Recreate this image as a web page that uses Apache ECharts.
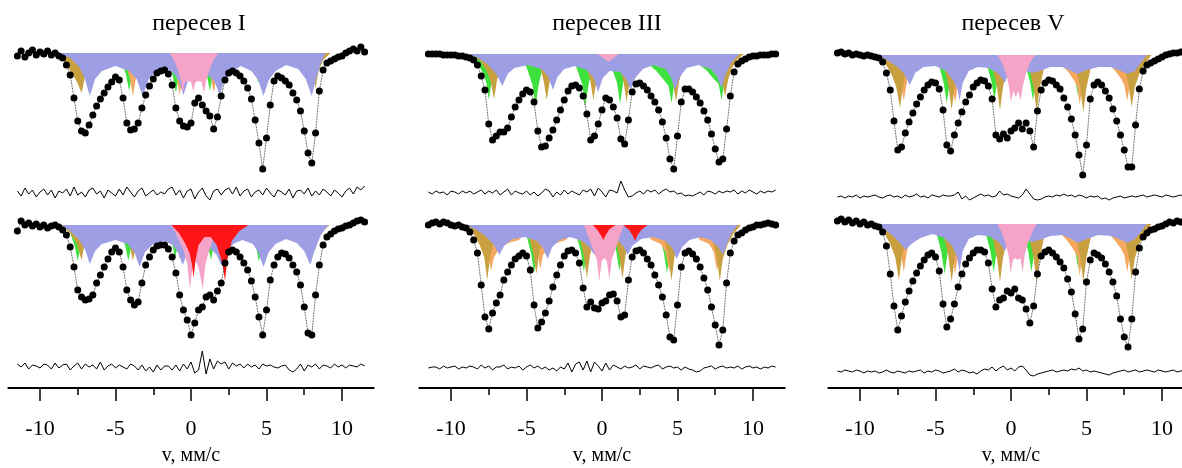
<!DOCTYPE html>
<html><head><meta charset="utf-8">
<script src="https://cdn.jsdelivr.net/npm/echarts@6/dist/echarts.min.js"></script>
<style>html,body{margin:0;padding:0;background:#fff}#c{width:1182px;height:468px}</style>
</head><body><div id="c"></div>
<script>
// ---------- DATA ----------
const titles = ['пересев I', 'пересев III', 'пересев V'];
const axisName = 'v, мм/с';
const majorTicks = [-10, -5, 0, 5, 10];
const minorTicks = [-7.5, -2.5, 2.5, 7.5];

// velocity grid, mm/s
const vel = [-11.5,-11.25,-11,-10.75,-10.5,-10.25,-10,-9.75,-9.5,-9.25,
-9,-8.75,-8.5,-8.25,-8,-7.75,-7.5,-7.25,-7,-6.75,
-6.5,-6.25,-6,-5.75,-5.5,-5.25,-5,-4.75,-4.5,-4.25,
-4,-3.75,-3.5,-3.25,-3,-2.75,-2.5,-2.25,-2,-1.75,
-1.5,-1.25,-1,-0.75,-0.5,-0.25,0,0.25,0.5,0.75,
1,1.25,1.5,1.75,2,2.25,2.5,2.75,3,3.25,
3.5,3.75,4,4.25,4.5,4.75,5,5.25,5.5,5.75,
6,6.25,6.5,6.75,7,7.25,7.5,7.75,8,8.25,
8.5,8.75,9,9.25,9.5,9.75,10,10.25,10.5,10.75,
11,11.25,11.5];

// measured absorption, % (top / bottom spectrum of each panel)
const d1T = [0.3,-0.2,0.4,0.0,-0.3,0.2,-0.1,0.1,-0.2,0.2,
0.0,0.3,0.5,1.2,2.2,4.5,6.8,7.8,8.0,7.2,
6.2,5.3,4.6,4.0,3.4,2.9,2.4,2.7,4.5,7.0,
7.7,7.6,7.0,5.5,4.2,3.3,2.6,2.0,1.8,1.7,
2.1,3.2,5.5,6.8,7.3,7.4,7.0,5.0,4.5,5.2,
5.8,6.3,7.6,6.4,4.3,2.7,2.0,1.8,2.0,2.3,
2.8,3.5,4.6,6.7,9.0,11.6,8.5,5.2,2.8,2.3,
2.5,2.8,3.2,4.0,4.7,5.8,7.8,10.0,11.0,8.0,
3.8,1.7,1.0,0.8,0.6,0.4,0.3,0.0,-0.2,-0.4,
-0.2,-0.6,-0.1];
const d1B = [0.6,-0.4,0.0,-0.2,0.1,-0.1,0.2,0.0,0.3,0.1,
0.0,0.2,0.5,1.0,2.2,4.2,6.5,7.2,7.5,7.4,
7.0,5.8,5.0,4.2,3.4,2.7,2.3,2.7,4.2,6.5,
7.5,8.0,7.7,5.8,4.0,3.2,2.5,2.1,2.0,2.0,
2.4,3.2,4.8,7.0,8.5,9.5,11.0,9.8,8.5,8.2,
7.2,7.0,7.5,6.6,5.8,3.8,2.7,2.5,2.7,3.2,
3.8,4.5,5.6,7.2,9.2,11.0,8.5,5.5,4.0,3.2,
2.8,2.9,3.3,4.0,4.7,6.0,8.2,10.8,11.0,7.0,
4.0,2.0,1.2,0.9,0.6,0.4,0.3,0.1,0.0,-0.2,
-0.4,-0.5,-0.3];
const d2T = [0.0,0.0,0.0,0.0,0.1,0.1,0.1,0.1,0.2,0.2,
0.3,0.4,0.6,1.1,2.2,3.6,7.0,8.6,8.2,7.8,
7.8,7.4,6.3,5.3,4.6,4.0,3.6,3.8,4.8,7.7,
9.3,9.2,8.4,7.6,6.6,5.6,4.6,3.7,3.2,3.1,
3.4,4.2,6.0,8.6,8.2,7.0,5.6,4.4,4.6,5.3,
6.4,8.5,9.0,6.6,3.8,3.0,2.9,3.2,3.6,4.2,
4.8,5.6,6.8,8.4,10.5,11.5,8.2,4.8,3.5,3.5,
3.8,4.3,4.9,5.7,6.6,8.0,9.5,10.8,10.5,7.5,
4.2,1.8,1.0,0.7,0.5,0.3,0.2,0.2,0.1,0.1,
0.1,0.0,0.0];
const d2B = [0.0,-0.2,-0.3,-0.1,-0.3,-0.2,0.0,0.1,0.0,0.2,
0.3,0.7,1.5,2.8,6.0,9.2,10.4,8.8,7.8,7.0,
5.5,4.7,4.0,3.4,3.1,2.8,3.1,4.5,8.0,10.3,
9.7,8.8,7.6,6.2,5.0,4.0,3.1,2.6,2.5,2.8,
3.8,6.3,8.2,7.7,8.3,8.4,7.8,7.6,7.0,6.9,
7.6,9.2,9.0,5.5,3.2,2.6,2.5,2.8,3.4,4.0,
5.0,6.0,7.2,9.0,11.2,11.5,8.0,4.2,2.8,2.6,
2.9,3.4,4.2,5.3,6.5,8.2,10.0,12.0,10.5,5.8,
2.8,1.6,1.0,0.8,0.5,0.3,0.2,0.0,0.0,-0.1,
-0.2,-0.1,0.0];
const d3T = [-0.2,-0.3,-0.1,-0.2,0.0,-0.1,0.0,0.1,0.0,0.1,
0.2,0.3,0.7,1.8,3.5,6.6,9.5,9.2,7.8,6.7,
5.8,4.9,4.2,3.5,3.0,2.7,2.8,3.4,5.5,9.0,
9.6,8.0,6.8,5.7,4.7,4.0,3.2,2.8,2.5,2.6,
3.1,4.4,8.0,8.4,7.9,8.3,7.6,7.3,6.8,7.4,
6.8,7.6,9.2,5.6,3.5,2.8,2.5,2.6,3.0,3.4,
4.3,5.2,6.4,8.0,10.0,12.0,9.0,4.4,3.0,2.7,
3.0,3.6,4.3,5.4,6.6,8.0,9.5,11.2,11.2,7.0,
3.4,1.6,1.0,0.8,0.6,0.4,0.2,0.0,-0.1,-0.2,
-0.2,-0.3,-0.3];
const d3B = [-0.3,-0.5,-0.2,-0.4,-0.1,-0.3,0.0,-0.2,0.1,0.0,
0.2,0.3,0.8,2.2,5.0,8.2,10.6,9.2,7.8,6.7,
5.7,4.9,4.2,3.6,3.1,2.9,3.3,4.7,8.0,10.3,
9.5,8.0,6.3,5.0,4.0,3.4,2.9,2.6,2.6,2.8,
3.9,6.5,8.3,7.6,7.4,6.7,6.9,6.5,7.4,7.6,
8.5,9.9,8.2,5.0,3.2,2.8,2.6,2.9,3.3,3.8,
4.4,5.5,6.8,9.0,11.5,10.5,5.8,3.6,2.9,3.1,
3.4,4.0,4.8,5.8,7.2,9.5,11.3,12.3,9.5,4.8,
2.4,1.3,0.9,0.6,0.5,0.3,0.2,0.0,-0.2,-0.1,
-0.3,-0.2,-0.3];

// residuals, %
const r1T = [0.2,-0.3,0.5,-0.1,0.3,-0.4,0.1,0.4,-0.2,0.3,
-0.5,0.2,0.0,0.4,-0.3,0.6,-0.2,0.1,-0.4,0.3,
0.5,-0.1,0.2,-0.5,0.3,0.0,-0.3,0.4,-0.2,0.6,
0.1,-0.4,0.2,0.5,-0.3,0.0,0.3,-0.2,0.1,-0.1,
0.4,0.6,-0.2,0.3,-0.5,0.2,0.4,-0.6,0.1,0.5,
-0.3,-0.7,0.2,0.4,-0.2,0.3,0.5,-0.1,0.6,-0.3,
0.2,0.4,-0.4,0.1,0.3,-0.2,0.5,0.0,-0.4,0.3,
0.1,-0.2,0.4,-0.5,0.2,0.3,-0.1,0.5,-0.3,0.2,
-0.2,0.4,0.1,-0.3,0.3,0.0,-0.4,0.2,0.5,-0.1,
0.6,0.3,0.7];
const r1B = [0.3,0.0,0.4,-0.2,0.2,0.1,-0.1,0.3,0.2,-0.2,
0.4,-0.1,0.2,0.3,-0.3,0.1,0.4,-0.2,0.3,0.0,
0.2,-0.2,0.5,-0.3,0.1,0.3,-0.1,0.2,0.0,-0.2,
0.3,0.1,-0.3,0.2,-0.4,0.0,-0.5,0.2,-0.3,0.1,
0.1,-0.3,0.2,-0.4,0.3,-0.2,0.5,-0.6,-0.3,1.6,
-0.7,0.8,-0.2,0.6,0.3,0.5,-0.2,0.4,0.1,0.3,
-0.1,0.3,0.0,0.2,-0.2,0.3,0.1,0.2,0.0,-0.1,
0.1,0.2,-0.3,-0.5,-0.2,0.3,-0.4,0.2,0.0,0.3,
-0.2,0.2,0.1,-0.1,0.3,0.0,0.2,-0.1,0.2,0.1,
0.0,0.3,0.1];
const r2T = [0.1,-0.1,0.2,0.0,0.1,-0.2,0.2,0.1,-0.1,0.2,
0.0,0.2,-0.1,0.1,0.3,-0.1,0.2,0.0,0.3,-0.2,
0.1,0.4,-0.2,0.2,0.0,-0.1,0.2,-0.2,0.1,-0.3,
0.0,0.4,0.2,-0.4,0.1,-0.2,0.3,-0.1,0.2,0.0,
-0.2,0.3,0.1,0.4,-0.3,0.5,0.1,-0.4,0.3,0.2,
0.0,1.2,0.3,-0.4,-0.3,0.0,0.2,-0.1,0.3,0.1,
0.3,-0.1,0.2,0.4,0.1,0.2,-0.1,0.0,-0.3,-0.2,
-0.3,-0.1,0.1,-0.2,0.2,0.1,-0.1,0.2,0.0,0.2,
0.1,0.3,-0.1,0.2,0.0,0.3,0.1,-0.1,0.2,0.0,
0.2,0.1,0.3];
const r2B = [0.0,0.1,0.1,-0.1,0.2,0.0,0.1,0.2,-0.1,0.1,
0.0,0.2,0.1,-0.1,0.3,0.0,0.2,-0.2,0.1,0.1,
0.3,-0.1,0.1,0.0,0.2,-0.2,0.1,0.3,0.0,0.2,
-0.1,0.1,-0.2,0.0,-0.3,0.1,-0.1,0.5,-0.4,0.4,
0.6,-0.2,0.7,-0.4,0.6,0.2,-0.3,0.5,-0.2,0.3,
0.1,-0.1,0.2,0.0,0.1,0.3,-0.1,0.2,0.1,0.0,
0.2,0.3,-0.1,0.1,0.2,0.0,0.1,-0.2,0.1,-0.1,
-0.2,-0.4,-0.3,0.0,0.1,0.2,-0.1,0.1,0.2,0.0,
0.1,0.0,0.2,-0.1,0.1,0.2,0.0,0.1,-0.1,0.1,
0.0,0.2,0.1];
const r3T = [0.0,0.1,-0.1,0.1,0.0,0.2,-0.1,0.1,0.0,0.1,
0.2,0.0,-0.1,0.1,0.2,0.0,0.1,-0.1,0.2,0.0,
0.1,0.3,0.0,0.1,-0.1,0.2,0.1,0.0,0.2,0.1,
0.1,0.2,0.5,-0.2,0.1,-0.3,-0.1,0.1,0.3,0.1,
0.2,0.0,0.1,0.6,0.2,0.3,0.1,0.0,-0.1,0.2,
0.8,0.3,-0.2,-0.3,-0.2,0.0,0.1,0.0,0.2,0.1,
0.3,0.1,0.2,0.0,0.2,0.1,-0.1,0.1,0.0,0.1,
-0.2,-0.1,-0.3,-0.1,0.0,0.1,-0.1,0.0,0.1,0.0,
0.1,0.2,0.0,0.1,0.2,0.1,0.0,0.2,0.1,0.0,
0.1,0.2,0.0];
const r3B = [0.1,0.0,0.2,0.1,0.0,0.2,0.1,-0.1,0.1,0.0,
0.1,-0.1,0.0,0.2,0.0,-0.1,0.1,0.0,-0.1,0.1,
0.0,0.1,0.2,-0.1,0.1,0.0,0.2,0.1,-0.1,0.0,
0.1,0.3,0.0,0.2,0.1,-0.1,0.0,-0.2,0.1,0.3,
0.2,0.5,0.1,0.4,0.6,0.2,0.4,0.1,0.5,0.6,
0.2,-0.3,-0.4,-0.2,-0.1,0.0,0.1,0.2,0.0,0.1,
0.2,0.1,0.3,0.2,0.4,0.1,0.2,0.0,0.1,0.0,
-0.1,-0.2,-0.3,-0.1,0.0,0.1,0.2,0.0,0.1,0.2,
0.0,0.1,0.2,0.1,0.0,0.2,0.1,0.0,0.1,0.2,
0.0,0.1,0.2];

// sub-spectra outlines [v, absorption %]
const blue1T = [[-8.8,0],[-8.0,0.5],[-7.4,1.4],[-7.05,2.5],[-6.7,4.3],[-6.35,2.6],[-5.9,1.8],[-5.0,1.3],[-4.1,1.8],[-3.6,2.6],[-3.2,4.3],[-2.8,2.6],[-2.3,1.8],[-1.7,1.5],[-1.15,2.0],[-0.8,2.8],[-0.5,4.2],[-0.2,2.8],[0.3,2.0],[0.8,2.0],[1.3,2.4],[1.6,3.0],[1.9,4.2],[2.2,2.8],[2.7,1.9],[3.3,1.3],[4.0,1.8],[4.45,2.7],[4.8,4.3],[5.15,2.7],[5.6,1.8],[6.3,1.2],[7.1,1.6],[7.6,2.6],[8.0,4.3],[8.3,2.5],[8.6,1.0],[8.9,0]];
const gold1T = [[-8.7,0],[-8.3,1.1],[-7.9,2.0],[-7.55,2.9],[-7.24,4.0],[-7.0,2.2],[-6.7,0.6],[-6.2,0],[7.25,0],[7.75,0.8],[8.05,2.0],[8.25,3.5],[8.45,1.8],[8.75,0.7],[9.25,0]];
const orange1T = [[-4.85,0],[-4.35,0.95],[-4.05,2.5],[-3.85,4.3],[-3.65,2.5],[-3.35,0.95],[-2.85,0],[-1.75,0],[-1.25,0.9],[-0.95,2.4],[-0.75,4.2],[-0.55,2.4],[-0.25,0.9],[0.25,0],[0.5,0],[1.0,0.9],[1.3,2.3],[1.5,4.0],[1.7,2.3],[2.0,0.9],[2.5,0]];
const green1T = [[-5.1,0],[-4.6,0.85],[-4.3,2.2],[-4.1,3.8],[-3.9,2.2],[-3.6,0.85],[-3.1,0],[-2.0,0],[-1.5,0.9],[-1.2,2.3],[-1.0,4.0],[-0.8,2.3],[-0.5,0.9],[0.0,0],[0.25,0],[0.75,0.85],[1.05,2.2],[1.25,3.8],[1.45,2.2],[1.75,0.85],[2.25,0],[3.45,0],[3.95,0.7],[4.25,1.7],[4.45,3.0],[4.65,1.7],[4.95,0.7],[5.45,0]];
const pink1T = [[-1.4,0],[-1.1,0.8],[-0.85,1.8],[-0.65,2.8],[-0.55,4.0],[-0.4,2.9],[-0.2,2.8],[0.0,2.9],[0.15,3.8],[0.3,2.9],[0.5,2.8],[0.7,2.9],[0.86,4.0],[1.0,2.8],[1.2,1.8],[1.45,0.8],[1.8,0]];

const blue1B = [[-8.6,0],[-8.0,0.6],[-7.4,1.5],[-7.0,2.5],[-6.7,3.9],[-6.35,2.6],[-5.9,1.9],[-5.0,1.5],[-4.2,1.9],[-3.75,2.7],[-3.4,4.2],[-3.05,2.7],[-2.5,1.9],[-1.8,1.6],[-1.2,2.0],[-0.85,2.8],[-0.55,4.0],[-0.25,2.8],[0.3,2.0],[0.9,2.0],[1.4,2.5],[1.7,3.0],[2.0,4.0],[2.3,2.8],[2.8,1.9],[3.4,1.5],[4.1,1.9],[4.45,2.7],[4.8,4.2],[5.15,2.7],[5.6,1.9],[6.3,1.4],[7.0,1.8],[7.5,2.6],[7.9,4.0],[8.2,2.5],[8.6,1.0],[9.1,0]];
const gold1B = [[-8.6,0],[-8.0,0.8],[-7.55,1.9],[-7.25,3.5],[-7.05,1.9],[-6.75,0.6],[-6.25,0],[-4.85,0],[-4.35,0.8],[-4.05,2.1],[-3.85,3.6],[-3.65,2.1],[-3.35,0.8],[-2.85,0],[7.2,0],[7.7,0.6],[8.0,1.5],[8.2,2.6],[8.4,1.5],[8.7,0.6],[9.2,0]];
const orange1B = [[-1.75,0],[-1.25,0.75],[-0.95,1.9],[-0.75,3.4],[-0.55,1.9],[-0.25,0.75],[0.25,0]];
const green1B = [[-8.5,0],[-8.0,0.8],[-7.7,2.1],[-7.5,3.6],[-7.3,2.1],[-7.0,0.8],[-6.5,0],[-5.15,0],[-4.65,0.8],[-4.35,2.1],[-4.15,3.6],[-3.95,2.1],[-3.65,0.8],[-3.15,0],[-2.05,0],[-1.55,0.75],[-1.25,1.9],[-1.05,3.3],[-0.85,1.9],[-0.55,0.75],[-0.05,0],[0.32,0],[0.82,0.8],[1.12,2.0],[1.32,3.5],[1.52,2.0],[1.82,0.8],[2.32,0],[3.5,0],[4.0,0.8],[4.3,2.1],[4.5,3.7],[4.7,2.1],[5.0,0.8],[5.5,0]];
const pink1B = [[-1.3,0],[-0.9,1.2],[-0.5,2.5],[-0.25,3.8],[-0.07,6.4],[0.1,4.2],[0.3,3.6],[0.5,4.2],[0.77,6.4],[0.95,4.0],[1.2,2.6],[1.5,1.2],[1.9,0]];
const red1B = [[-1.3,0],[-0.8,0.8],[-0.4,1.8],[-0.1,2.8],[0.05,3.8],[0.17,5.3],[0.3,3.5],[0.5,2.0],[0.9,1.2],[1.3,1.2],[1.7,2.0],[1.95,3.2],[2.1,4.0],[2.25,5.6],[2.4,3.5],[2.7,1.6],[3.2,0.6],[3.8,0]];

const blue2T = [[-8.8,0],[-8.2,0.4],[-7.6,1.0],[-7.0,2.0],[-6.6,3.2],[-6.25,2.0],[-5.8,1.4],[-4.9,1.1],[-4.0,1.5],[-3.55,2.3],[-3.25,3.6],[-2.95,2.3],[-2.5,1.5],[-1.8,1.2],[-1.0,1.6],[-0.55,2.4],[-0.26,3.8],[0.05,2.4],[0.5,1.7],[1.2,1.8],[1.6,2.5],[1.9,3.6],[2.2,2.4],[2.7,1.5],[3.4,1.1],[4.2,1.5],[4.55,2.3],[4.85,3.6],[5.15,2.3],[5.6,1.4],[6.4,1.1],[7.2,1.5],[7.6,2.2],[7.9,3.4],[8.2,2.0],[8.6,0.8],[9.1,0]];
const gold2T = [[-8.6,0],[-8.0,0.8],[-7.6,1.8],[-7.35,2.9],[-7.15,4.5],[-6.95,2.6],[-6.65,1.0],[-6.15,0],[-4.66,0],[-4.16,1.0],[-3.86,2.7],[-3.66,4.6],[-3.46,2.7],[-3.16,1.0],[-2.66,0],[-1.57,0],[-1.07,1.0],[-0.77,2.7],[-0.57,4.6],[-0.37,2.7],[-0.07,1.0],[0.43,0],[0.63,0],[1.13,1.05],[1.43,2.8],[1.63,4.8],[1.83,2.8],[2.13,1.05],[2.63,0],[3.9,0],[4.4,1.05],[4.7,2.8],[4.9,4.8],[5.1,2.8],[5.4,1.05],[5.9,0],[7.15,0],[7.65,0.95],[7.95,2.5],[8.15,4.3],[8.35,2.6],[8.6,1.4],[9.0,0.5],[9.4,0]];
const green2T = [[-8.8,0],[-8.2,1.0],[-7.8,2.2],[-7.65,3.0],[-7.5,4.6],[-7.3,2.7],[-7.0,1.0],[-6.5,0],[-5.6,0],[-5.0,1.3],[-4.6,3.1],[-4.4,5.3],[-4.2,3.1],[-3.9,1.2],[-3.4,0],[-2.3,0],[-1.7,1.3],[-1.3,3.1],[-1.1,5.3],[-0.9,3.1],[-0.6,1.2],[-0.1,0],[0.1,0],[0.6,1.2],[1.0,2.9],[1.2,5.0],[1.4,2.9],[1.7,1.1],[2.2,0],[2.4,0],[3.0,0.9],[3.6,1.7],[4.1,2.6],[4.41,3.2],[4.61,4.9],[4.81,2.8],[5.1,1.1],[5.6,0],[5.7,0],[6.3,0.9],[6.9,1.6],[7.4,2.5],[7.72,3.0],[7.92,4.6],[8.12,2.7],[8.4,1.0],[8.9,0]];
const pink2T = [[-0.3,0],[0.0,0.3],[0.25,0.6],[0.42,0.8],[0.6,0.6],[0.85,0.3],[1.1,0]];

const blue2B = [[-9.1,0],[-8.4,0.4],[-7.8,1.0],[-7.2,1.9],[-6.8,3.0],[-6.45,2.0],[-5.9,1.4],[-5.1,1.2],[-4.3,1.6],[-3.9,2.3],[-3.6,3.4],[-3.3,2.2],[-2.8,1.5],[-2.1,1.2],[-1.3,1.6],[-0.85,2.2],[-0.5,3.0],[-0.15,2.0],[0.6,1.4],[1.1,1.6],[1.45,2.2],[1.7,3.0],[2.0,2.1],[2.6,1.4],[3.4,1.2],[4.2,1.6],[4.65,2.3],[4.95,3.4],[5.3,2.2],[5.8,1.5],[6.5,1.2],[7.2,1.5],[7.7,2.2],[8.0,3.0],[8.3,1.8],[8.6,0.8],[9.0,0]];
const gold2B = [[-9.1,0],[-8.5,0.9],[-8.1,2.0],[-7.8,3.2],[-7.6,5.5],[-7.4,3.2],[-7.1,1.2],[-6.6,0],[-5.35,0],[-4.85,1.1],[-4.55,2.8],[-4.35,4.9],[-4.15,2.8],[-3.85,1.1],[-3.35,0],[-2.0,0],[-1.5,1.15],[-1.2,3.1],[-1.0,5.3],[-0.8,3.1],[-0.5,1.15],[0.0,0],[0.35,0],[0.85,1.2],[1.15,3.1],[1.35,5.4],[1.55,3.1],[1.85,1.2],[2.35,0],[3.6,0],[4.1,1.2],[4.4,3.2],[4.6,5.6],[4.8,3.2],[5.1,1.2],[5.6,0],[6.8,0],[7.3,1.2],[7.6,3.2],[7.8,5.6],[8.0,3.4],[8.3,2.0],[8.7,0.9],[9.2,0]];
const orange2B = [[-8.35,0],[-7.85,1.0],[-7.55,2.7],[-7.35,4.6],[-7.15,3.2],[-6.8,2.4],[-6.2,1.8],[-5.5,1.5],[-5.0,0.5],[-4.8,0],[-4.7,0],[-4.4,1.2],[-4.25,2.6],[-4.1,4.4],[-3.9,3.0],[-3.6,2.4],[-3.0,1.8],[-2.4,1.5],[-1.9,0.6],[-1.6,0],[2.4,0],[2.8,0.6],[3.3,1.5],[3.9,1.9],[4.2,2.7],[4.45,4.6],[4.65,2.6],[4.95,1.0],[5.4,0],[5.6,0],[6.0,0.6],[6.5,1.5],[7.1,1.9],[7.4,2.7],[7.62,4.6],[7.82,2.6],[8.1,1.0],[8.6,0]];
const green2B = [[-5.5,0],[-5.0,1.05],[-4.7,2.8],[-4.5,4.8],[-4.3,2.8],[-4.0,1.05],[-3.5,0],[-2.2,0],[-1.7,1.0],[-1.4,2.7],[-1.2,4.7],[-1.0,2.7],[-0.7,1.0],[-0.2,0],[0.15,0],[0.65,1.0],[0.95,2.7],[1.15,4.6],[1.35,2.7],[1.65,1.0],[2.15,0],[3.3,0],[3.8,1.05],[4.1,2.8],[4.3,4.8],[4.5,2.8],[4.8,1.05],[5.3,0]];
const pink2B = [[-1.2,0],[-0.9,1.2],[-0.6,2.4],[-0.35,3.4],[-0.18,5.6],[-0.02,3.6],[0.15,3.3],[0.32,3.6],[0.49,5.4],[0.65,3.4],[0.9,2.4],[1.15,1.2],[1.45,0]];
const red2B = [[-0.6,0],[-0.3,0.5],[-0.05,1.1],[0.09,1.5],[0.25,1.0],[0.5,0.4],[0.9,0],[1.4,0],[1.8,0.5],[2.05,1.1],[2.19,1.6],[2.35,1.0],[2.6,0.5],[3.0,0]];

const blue3T = [[-8.8,0],[-8.2,0.5],[-7.6,1.1],[-7.1,1.8],[-6.7,3.0],[-6.35,1.8],[-5.8,1.2],[-5.0,1.1],[-4.3,1.6],[-3.8,2.6],[-3.55,3.4],[-3.4,4.6],[-3.2,2.8],[-2.8,1.6],[-2.2,1.2],[-1.5,1.3],[-0.9,1.8],[-0.6,2.3],[-0.4,2.8],[-0.2,1.9],[0.4,1.5],[1.0,1.6],[1.4,1.8],[1.9,1.6],[2.6,1.2],[3.4,1.2],[4.0,1.6],[4.4,1.9],[5.0,1.5],[5.8,1.2],[6.6,1.2],[7.3,1.6],[7.7,1.9],[8.2,1.6],[8.6,0.8],[9.0,0]];
const gold3T = [[-8.8,0],[-8.3,0.9],[-7.9,2.0],[-7.6,3.2],[-7.35,5.3],[-7.15,3.1],[-6.85,1.2],[-6.35,0],[-4.93,0],[-4.43,1.2],[-4.13,3.2],[-3.93,5.5],[-3.73,3.2],[-3.43,1.2],[-2.93,0],[-1.73,0],[-1.23,1.2],[-0.93,3.2],[-0.73,5.5],[-0.53,3.2],[-0.23,1.2],[0.27,0],[0.7,0],[1.2,1.25],[1.5,3.3],[1.7,5.7],[1.9,3.3],[2.2,1.25],[2.7,0],[3.79,0],[4.29,1.25],[4.59,3.3],[4.79,5.7],[4.99,3.3],[5.29,1.25],[5.79,0],[6.99,0],[7.49,1.15],[7.79,3.0],[7.99,5.2],[8.2,3.2],[8.5,1.9],[8.9,0.8],[9.3,0]];
const orange3T = [[-8.1,0],[-7.6,1.0],[-7.3,2.7],[-7.1,4.6],[-6.9,2.7],[-6.6,1.0],[-6.1,0],[-4.7,0],[-4.2,1.05],[-3.9,2.8],[-3.7,4.8],[-3.5,2.8],[-3.2,1.05],[-2.7,0],[2.6,0],[3.2,0.8],[3.8,1.7],[4.2,2.6],[4.4,3.2],[4.55,5.0],[4.75,2.9],[5.05,1.1],[5.55,0],[5.8,0],[6.4,0.8],[6.9,1.6],[7.3,2.4],[7.5,3.0],[7.7,4.6],[7.9,2.7],[8.2,1.0],[8.7,0]];
const green3T = [[-5.26,0],[-4.76,1.05],[-4.46,2.8],[-4.26,4.8],[-4.06,2.8],[-3.76,1.05],[-3.26,0],[-2.1,0],[-1.6,1.0],[-1.3,2.6],[-1.1,4.5],[-0.9,2.6],[-0.6,1.0],[-0.1,0],[0.45,0],[0.95,1.0],[1.25,2.6],[1.45,4.5],[1.65,2.6],[1.95,1.0],[2.45,0],[3.45,0],[3.95,0.9],[4.25,2.4],[4.45,4.2],[4.65,2.4],[4.95,0.9],[5.45,0]];
const pink3T = [[-0.9,0],[-0.6,0.8],[-0.35,1.8],[-0.15,3.0],[0.0,4.7],[0.15,3.6],[0.32,4.2],[0.48,3.6],[0.64,4.5],[0.8,3.0],[1.0,1.8],[1.25,0.8],[1.6,0]];

const blue3B = [[-9.0,0],[-8.4,0.5],[-7.8,1.2],[-7.3,2.0],[-7.0,2.6],[-6.6,2.0],[-6.0,1.4],[-5.2,1.0],[-4.4,1.4],[-3.9,2.2],[-3.6,3.2],[-3.4,4.7],[-3.2,2.7],[-2.8,1.5],[-2.2,1.1],[-1.5,1.2],[-0.9,1.7],[-0.6,2.2],[-0.4,2.7],[-0.2,1.9],[0.4,1.5],[1.0,1.6],[1.4,1.8],[1.9,1.6],[2.6,1.2],[3.4,1.1],[4.0,1.5],[4.4,1.9],[5.0,1.5],[5.8,1.1],[6.6,1.2],[7.3,1.6],[7.7,1.9],[8.2,1.5],[8.6,0.8],[9.0,0]];
const gold3B = [[-8.9,0],[-8.4,0.9],[-8.0,2.0],[-7.67,3.3],[-7.42,5.6],[-7.22,3.2],[-6.92,1.2],[-6.42,0],[-4.93,0],[-4.43,1.3],[-4.13,3.4],[-3.93,5.8],[-3.73,3.4],[-3.43,1.3],[-2.93,0],[-1.73,0],[-1.23,1.3],[-0.93,3.4],[-0.73,5.8],[-0.53,3.4],[-0.23,1.3],[0.27,0],[0.7,0],[1.2,1.3],[1.5,3.4],[1.7,5.8],[1.9,3.4],[2.2,1.3],[2.7,0],[3.79,0],[4.29,1.3],[4.59,3.4],[4.79,5.8],[4.99,3.4],[5.29,1.3],[5.79,0],[6.99,0],[7.49,1.2],[7.79,3.2],[7.99,5.6],[8.2,3.4],[8.5,2.0],[8.9,0.8],[9.3,0]];
const orange3B = [[-8.1,0],[-7.6,1.05],[-7.3,2.8],[-7.1,4.8],[-6.9,2.8],[-6.6,1.05],[-6.1,0],[-4.7,0],[-4.2,1.1],[-3.9,2.9],[-3.7,5.0],[-3.5,2.9],[-3.2,1.1],[-2.7,0],[2.6,0],[3.2,0.8],[3.8,1.8],[4.2,2.7],[4.4,3.3],[4.55,5.2],[4.75,3.0],[5.05,1.1],[5.55,0],[5.8,0],[6.4,0.8],[6.9,1.7],[7.3,2.5],[7.5,3.1],[7.7,4.8],[7.9,2.8],[8.2,1.0],[8.7,0]];
const green3B = [[-5.4,0],[-4.9,1.1],[-4.6,2.9],[-4.4,5.0],[-4.2,2.9],[-3.9,1.1],[-3.4,0],[-2.15,0],[-1.65,1.05],[-1.35,2.8],[-1.15,4.8],[-0.95,2.8],[-0.65,1.05],[-0.15,0],[0.35,0],[0.85,1.05],[1.15,2.8],[1.35,4.8],[1.55,2.8],[1.85,1.05],[2.35,0],[3.45,0],[3.95,1.0],[4.25,2.6],[4.45,4.5],[4.65,2.6],[4.95,1.0],[5.45,0]];
const pink3B = [[-0.9,0],[-0.6,0.9],[-0.35,2.0],[-0.15,3.2],[-0.02,4.9],[0.12,3.6],[0.3,3.4],[0.45,3.6],[0.62,3.4],[0.77,4.8],[0.92,3.0],[1.15,1.8],[1.4,0.8],[1.7,0]];

// ---------- BUILD ----------
const FONT = '"Liberation Serif", "Times New Roman", serif';
const COLORS = {green:'#3ee03e', orange:'#f4a860', gold:'#c8a040', blue:'#9e9ee4', pink:'#f5a3c7', red:'#ff1515'};
const panelLeft = [8.3, 419.3, 828.3];
const W = 365.4;
const baseY = [[53,225],[54,225],[55,224]];
const resY = [[193,367],[193,368],[197,372]];
const AXIS_Y = 388;
const titleX = [199, 607, 1013];

const panels = [
  [ {dots:d1T, res:r1T, comps:[['green',green1T],['orange',orange1T],['gold',gold1T],['blue',blue1T],['pink',pink1T]]},
    {dots:d1B, res:r1B, comps:[['green',green1B],['orange',orange1B],['gold',gold1B],['blue',blue1B],['pink',pink1B],['red',red1B]]} ],
  [ {dots:d2T, res:r2T, comps:[['green',green2T],['gold',gold2T],['blue',blue2T],['pink',pink2T]]},
    {dots:d2B, res:r2B, comps:[['green',green2B],['orange',orange2B],['gold',gold2B],['blue',blue2B],['pink',pink2B],['red',red2B]]} ],
  [ {dots:d3T, res:r3T, comps:[['green',green3T],['orange',orange3T],['gold',gold3T],['blue',blue3T],['pink',pink3T]]},
    {dots:d3B, res:r3B, comps:[['green',green3B],['orange',orange3B],['gold',gold3B],['blue',blue3B],['pink',pink3B]]} ]
];

const grid = [], xAxis = [], yAxis = [], series = [], graphic = [];
const XMIN = -12.1, XMAX = 12.1;
function hiddenX(g){ return {type:'value', gridIndex:g, min:XMIN, max:XMAX, show:false}; }

panels.forEach((pan, p) => {
  pan.forEach((sp, s) => {
    const gs = grid.length;
    grid.push({left:panelLeft[p], width:W, top:baseY[p][s]-15, height:150, containLabel:false, outerBoundsMode:'none'});
    xAxis.push(hiddenX(gs)); const xs = xAxis.length-1;
    yAxis.push({type:'value', gridIndex:gs, min:-1.5, max:13.5, inverse:true, show:false}); const ys = yAxis.length-1;
    sp.comps.forEach(([name, arr]) => {
      series.push({type:'line', xAxisIndex:xs, yAxisIndex:ys, data:arr, symbol:'none', silent:true,
        lineStyle:{width:0, color:COLORS[name]}, areaStyle:{color:COLORS[name], opacity:1}, z:2});
    });
    series.push({type:'line', xAxisIndex:xs, yAxisIndex:ys, data: vel.map((v,i)=>[v, sp.dots[i]]),
      symbol:'circle', symbolSize:7, showSymbol:true, silent:true,
      itemStyle:{color:'#000'}, lineStyle:{width:0.8, color:'#000', type:'dotted'}, z:5});
    const gr = grid.length;
    let top, h, yr;
    if (s === 0) { top = resY[p][0]-20; h = 40; yr = 2; }
    else { top = 2*resY[p][1]-AXIS_Y; h = 2*(AXIS_Y-resY[p][1]); yr = (AXIS_Y-resY[p][1])/10; }
    grid.push({left:panelLeft[p], width:W, top:top, height:h, containLabel:false, outerBoundsMode:'none'});
    if (s === 0) {
      xAxis.push(hiddenX(gr));
    } else {
      xAxis.push({type:'value', gridIndex:gr, min:XMIN, max:XMAX, position:'bottom',
        axisLine:{show:true, onZero:false, lineStyle:{color:'#000', width:2}},
        axisTick:{show:true, inside:false, length:13, customValues:majorTicks, lineStyle:{color:'#000', width:1.5}},
        axisLabel:{show:true, customValues:majorTicks, margin:30, fontFamily:FONT, fontSize:22, color:'#000'},
        splitLine:{show:false}, minorTick:{show:false},
        name:axisName, nameLocation:'middle', nameGap:58,
        nameTextStyle:{fontFamily:FONT, fontSize:20, color:'#000'}});
      xAxis.push({type:'value', gridIndex:gr, min:XMIN, max:XMAX, position:'bottom',
        axisLine:{show:false, onZero:false},
        axisTick:{show:true, inside:false, length:7, customValues:minorTicks, lineStyle:{color:'#000', width:1.5}},
        axisLabel:{show:false}, splitLine:{show:false}});
    }
    const xr = s === 0 ? xAxis.length-1 : xAxis.length-2;
    yAxis.push({type:'value', gridIndex:gr, min:-yr, max:yr, show:false}); const yrI = yAxis.length-1;
    series.push({type:'line', xAxisIndex:xr, yAxisIndex:yrI, data: vel.map((v,i)=>[v, sp.res[i]]),
      symbol:'none', silent:true, lineStyle:{width:1, color:'#000'}, z:3});
  });
  graphic.push({type:'text', x:titleX[p], y:24, silent:true,
    style:{text:titles[p], fontFamily:FONT, fontSize:24, fill:'#000', align:'center', verticalAlign:'middle'}});
});

const chart = echarts.init(document.getElementById('c'), null, {renderer:'canvas'});
chart.setOption({animation:false, backgroundColor:'#fff', grid, xAxis, yAxis, series, graphic});
</script>
</body></html>
